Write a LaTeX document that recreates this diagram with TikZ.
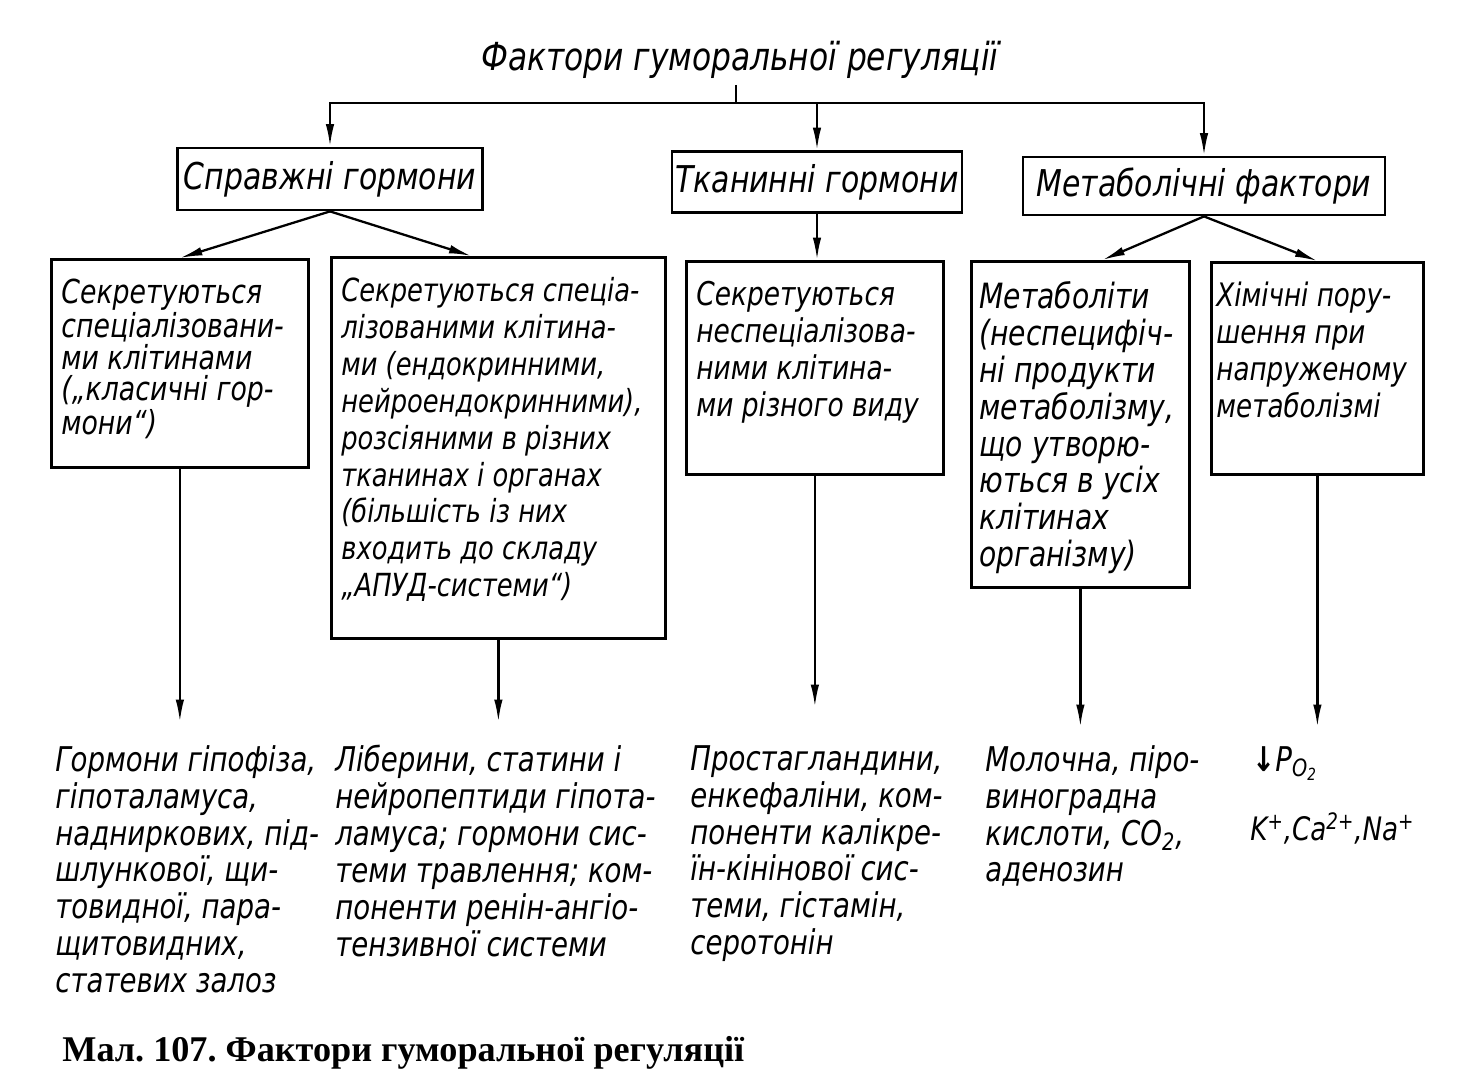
\documentclass[tikz,border=0pt]{standalone}
\usepackage{fontspec}
\setmainfont{Liberation Serif}
\newfontfamily\gost{DejaVu Sans Condensed}[FakeStretch=0.9]
\usetikzlibrary{arrows.meta,calc}

\newcommand{\gostsize}[2]{\gost\itshape\fontsize{#1}{#2}\selectfont\lineskiplimit=-20pt}
\newcommand{\celltext}[3]{\parbox[t][#2][t]{#1}{#3}}

\tikzset{
  head/.style={draw, line width=1.6pt, font=\gostsize{21}{24}, inner sep=0pt},
  cell/.style={draw, line width=1.6pt, anchor=north west, font=\gostsize{18.6}{21},
    inner xsep=0.2cm, inner ysep=0.4cm},
  note/.style={anchor=north west, align=left, font=\gostsize{19.4}{21}, inner sep=0pt},
  link/.style={line width=1.3pt, -{Latex[length=4.5mm,width=1.7mm]}},
}

\begin{document}
\frenchspacing
\begin{tikzpicture}[x=0.02cm, y=-0.02cm]
\useasboundingbox (0,0) rectangle (1477,1091);

% title and first level
\node[font=\gostsize{22}{24}] (title) at (740,60) {Фактори гуморальної регуляції};
\coordinate (split) at (736,103);

\node[head, minimum width=6.1cm, minimum height=1.24cm] (real) at (330,179) {Справжні гормони};
\node[head, minimum width=5.8cm, minimum height=1.22cm] (tissue) at (817,182) {Тканинні гормони};
\node[head, minimum width=7.24cm, minimum height=1.16cm] (meta) at (1204,186) {Метаболічні фактори};

% second level
\node[cell, font=\gostsize{18.8}{17.9}] (c1) at (50,258) {\celltext{4.74cm}{3.36cm}{Секретуються\\
  спеціалізовани-\\ ми клітинами\\ („класичні гор-\\ мони“)}};
\node[cell, font=\gostsize{18.1}{21}] (c2) at (330,256) {\celltext{6.28cm}{6.82cm}{Секретуються спеціа-\\
  лізованими клітина-\\ ми (ендокринними,\\ нейроендокринними),\\
  розсіяними в різних\\ тканинах і органах\\ (більшість із них\\
  входить до складу\\ „АПУД-системи“)}};
\node[cell] (c3) at (685,260) {\celltext{4.74cm}{3.46cm}{Секретуються\\
  неспеціалізова-\\ ними клітина-\\ ми різного виду}};
\node[cell, font=\gostsize{19.8}{21}, inner xsep=0.16cm] (c4) at (970,260)
  {\celltext{4.04cm}{5.72cm}{Метаболіти\\
  (неспецифіч-\\ ні продукти\\ метаболізму,\\ що утворю-\\
  ються в усіх\\ клітинах\\ організму)}};
\node[cell, font=\gostsize{18.4}{21}, inner xsep=0.1cm] (c5) at (1210,261)
  {\celltext{4.04cm}{3.44cm}{Хімічні пору-\\
  шення при\\ напруженому\\ метаболізмі}};

% end products
\node[note] (t1) at (55,745) {Гормони гіпофіза,\\ гіпоталамуса,\\ надниркових, під-\\
  шлункової, щи-\\ товидної, пара-\\ щитовидних,\\ статевих залоз};
\node[note] (t2) at (335,745) {Ліберини, статини і\\ нейропептиди гіпота-\\
  ламуса; гормони сис-\\ теми травлення; ком-\\ поненти ренін-ангіо-\\
  тензивної системи};
\node[note] (t3) at (690,745) {Простагландини,\\ енкефаліни, ком-\\
  поненти калікре-\\ їн-кінінової сис-\\ теми, гістамін,\\ серотонін};
\node[note] (t4) at (985,745) {Молочна, піро-\\ виноградна\\
  кислоти, CO\textsubscript{2},\\ аденозин};
\node[note] (po2) at (1252,746) {{\bfseries ↓}P\textsubscript{O\textsubscript{2}}};
\node[note, font=\gostsize{18.4}{21}] (ions) at (1250,812) {K\textsuperscript{+},Ca\textsuperscript{2+},Na\textsuperscript{+}};

% caption
\node[anchor=west, inner sep=0pt, font=\bfseries\fontsize{20.6}{24}\selectfont] (caption) at (62,1053)
  {Мал. 107. Фактори гуморальної регуляції};

% connectors
\draw[line width=1.3pt] (title.south -| split) -- (split);
\draw[link] (split) -| (real.north);
\draw[link] (split) -| (tissue.north);
\draw[link] (split) -| (meta.north);

\draw[link] (real.south) -- (c1.north);
\draw[link] (real.south) -- ($(c2.north west)!0.42!(c2.north east)$);
\draw[link] (tissue.south) -- (tissue.south |- c3.north);
\draw[link] (meta.south) -- ($(c4.north west)!0.6!(c4.north east)$);
\draw[link] (meta.south) -- (c5.north);

\draw[link, shorten >=0.46cm] (c1.south) -- (c1.south |- t1.north);
\draw[link, shorten >=0.46cm] (c2.south) -- (c2.south |- t2.north);
\draw[link, shorten >=0.76cm] (c3.south) -- (c3.south |- t3.north);
\draw[link, shorten >=0.36cm] (c4.south) -- (c4.south |- t4.north);
\draw[link, shorten >=0.38cm] (c5.south) -- (c5.south |- po2.north);
\end{tikzpicture}
\end{document}
